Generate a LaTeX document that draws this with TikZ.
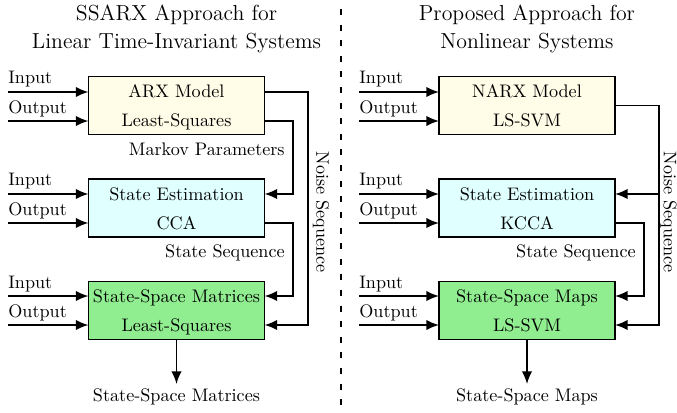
\documentclass[tikz,border=0pt]{standalone}
\usetikzlibrary{arrows.meta,calc}
\definecolor{boxyellow}{RGB}{255,253,231}
\definecolor{boxcyan}{RGB}{224,255,255}
\definecolor{boxgreen}{RGB}{144,238,144}
\begin{document}
\begin{tikzpicture}[x=0.551pt,y=-0.551pt,
  blk/.style={draw, line width=0.95pt, minimum width=97pt, minimum height=32pt, inner sep=0pt, outer sep=0pt},
  arr/.style={line width=0.95pt, -{Latex[length=7pt,width=5.8pt]}},
  lbl/.style={inner sep=0pt, anchor=base},
  io/.style={inner sep=0pt, anchor=base west},
  ttl/.style={inner sep=0pt, anchor=base, font=\large},
  sep/.style={line width=1.1pt, dash pattern=on 3.3pt off 5.3pt}
]
\useasboundingbox (0,0) rectangle (677,413);

% titles
\node[ttl] (t1a) at (176.5,21) {SSARX Approach for};
\node[ttl] (t1b) at (176.5,49) {Linear Time-Invariant Systems};
\node[ttl] (t2a) at (527,21) {Proposed Approach for};
\node[ttl] (t2b) at (527,49) {Nonlinear Systems};

% separator
\coordinate (sepTop) at (341,9);
\coordinate (sepBot) at (341,413);
\draw[sep] (sepTop) -- (sepBot);

% ---------------- left ----------------
\node[blk, fill=boxyellow] (arx) at (176.5,105.5) {};
\node[blk, fill=boxcyan] (se) at (176.5,208) {};
\node[blk, fill=boxgreen] (ss) at (176.5,310.5) {};

\node[lbl] (arxA) at (176.5,97.5) {ARX Model};
\node[lbl] (arxB) at (176.5,126.5) {Least-Squares};
\node[lbl] (seA) at (176.5,200) {State Estimation};
\node[lbl] (seB) at (176.5,229) {CCA};
\node[lbl] (ssA) at (176.5,302) {State-Space Matrices};
\node[lbl] (ssB) at (176.5,331) {Least-Squares};

% inputs left
\coordinate (Li1) at (8,92);  \coordinate (Lo1) at (8,121);
\coordinate (Li2) at (8,194); \coordinate (Lo2) at (8,223);
\coordinate (Li3) at (8,296); \coordinate (Lo3) at (8,325);
\draw[arr] (Li1) -- (arx.west |- Li1);
\draw[arr] (Lo1) -- (arx.west |- Lo1);
\draw[arr] (Li2) -- (se.west |- Li2);
\draw[arr] (Lo2) -- (se.west |- Lo2);
\draw[arr] (Li3) -- (ss.west |- Li3);
\draw[arr] (Lo3) -- (ss.west |- Lo3);
\node[io] (Lti1) at ($(Li1)+(0,-8)$) {Input};
\node[io] (Lto1) at ($(Lo1)+(0,-8)$) {Output};
\node[io] (Lti2) at ($(Li2)+(0,-8)$) {Input};
\node[io] (Lto2) at ($(Lo2)+(0,-8)$) {Output};
\node[io] (Lti3) at ($(Li3)+(0,-8)$) {Input};
\node[io] (Lto3) at ($(Lo3)+(0,-8)$) {Output};

% feedback wires left
\coordinate (Lnx) at (308,0);
\coordinate (Lmx) at (293,0);
\draw[arr] (arx.east |- Li1) -- (Lnx |- Li1) -- (Lnx |- Lo3) -- (ss.east |- Lo3);
\draw[arr] (arx.east |- Lo1) -- (Lmx |- Lo1) -- (Lmx |- Li2) -- (se.east |- Li2);
\draw[arr] (se.east |- Lo2) -- (Lmx |- Lo2) -- (Lmx |- Li3) -- (ss.east |- Li3);

\node[inner sep=0pt, anchor=base east] (markov) at (285,155.5) {Markov Parameters};
\node[inner sep=0pt, anchor=base east] (Lstate) at (285,257.5) {State Sequence};
\node[inner sep=0pt, rotate=-90] (Lnoise) at (321,212) {Noise Sequence};

% output left
\coordinate (Lout) at (176.5,384);
\draw[arr] (ss.south) -- (Lout);
\node[lbl] (Loutl) at (176.5,401) {State-Space Matrices};

% ---------------- right ----------------
\node[blk, fill=boxyellow] (narx) at (527,105.5) {};
\node[blk, fill=boxcyan] (se2) at (527,208) {};
\node[blk, fill=boxgreen] (ss2) at (527,310.5) {};

\node[lbl] (narxA) at (527,97.5) {NARX Model};
\node[lbl] (narxB) at (527,126.5) {LS-SVM};
\node[lbl] (se2A) at (527,200) {State Estimation};
\node[lbl] (se2B) at (527,229) {KCCA};
\node[lbl] (ss2A) at (527,302) {State-Space Maps};
\node[lbl] (ss2B) at (527,331) {LS-SVM};

\coordinate (Ri1) at (359,92);  \coordinate (Ro1) at (359,121);
\coordinate (Ri2) at (359,194); \coordinate (Ro2) at (359,223);
\coordinate (Ri3) at (359,296); \coordinate (Ro3) at (359,325);
\draw[arr] (Ri1) -- (narx.west |- Ri1);
\draw[arr] (Ro1) -- (narx.west |- Ro1);
\draw[arr] (Ri2) -- (se2.west |- Ri2);
\draw[arr] (Ro2) -- (se2.west |- Ro2);
\draw[arr] (Ri3) -- (ss2.west |- Ri3);
\draw[arr] (Ro3) -- (ss2.west |- Ro3);
\node[io] (Rti1) at ($(Ri1)+(0,-8)$) {Input};
\node[io] (Rto1) at ($(Ro1)+(0,-8)$) {Output};
\node[io] (Rti2) at ($(Ri2)+(0,-8)$) {Input};
\node[io] (Rto2) at ($(Ro2)+(0,-8)$) {Output};
\node[io] (Rti3) at ($(Ri3)+(0,-8)$) {Input};
\node[io] (Rto3) at ($(Ro3)+(0,-8)$) {Output};

\coordinate (Rnx) at (659,0);
\coordinate (Rsx) at (644,0);
\draw[arr] (narx.east) -- (Rnx |- narx.east) -- (Rnx |- Ro3) -- (ss2.east |- Ro3);
\draw[arr] (Rnx |- Ri2) -- (se2.east |- Ri2);
\draw[arr] (se2.east |- Ro2) -- (Rsx |- Ro2) -- (Rsx |- Ri3) -- (ss2.east |- Ri3);

\node[inner sep=0pt, anchor=base east] (Rstate) at (636,257.5) {State Sequence};
\node[inner sep=0pt, rotate=-90] (Rnoise) at (668.5,212) {Noise Sequence};

\coordinate (Rout) at (527,384);
\draw[arr] (ss2.south) -- (Rout);
\node[lbl] (Routl) at (527,401) {State-Space Maps};
\end{tikzpicture}
\end{document}
